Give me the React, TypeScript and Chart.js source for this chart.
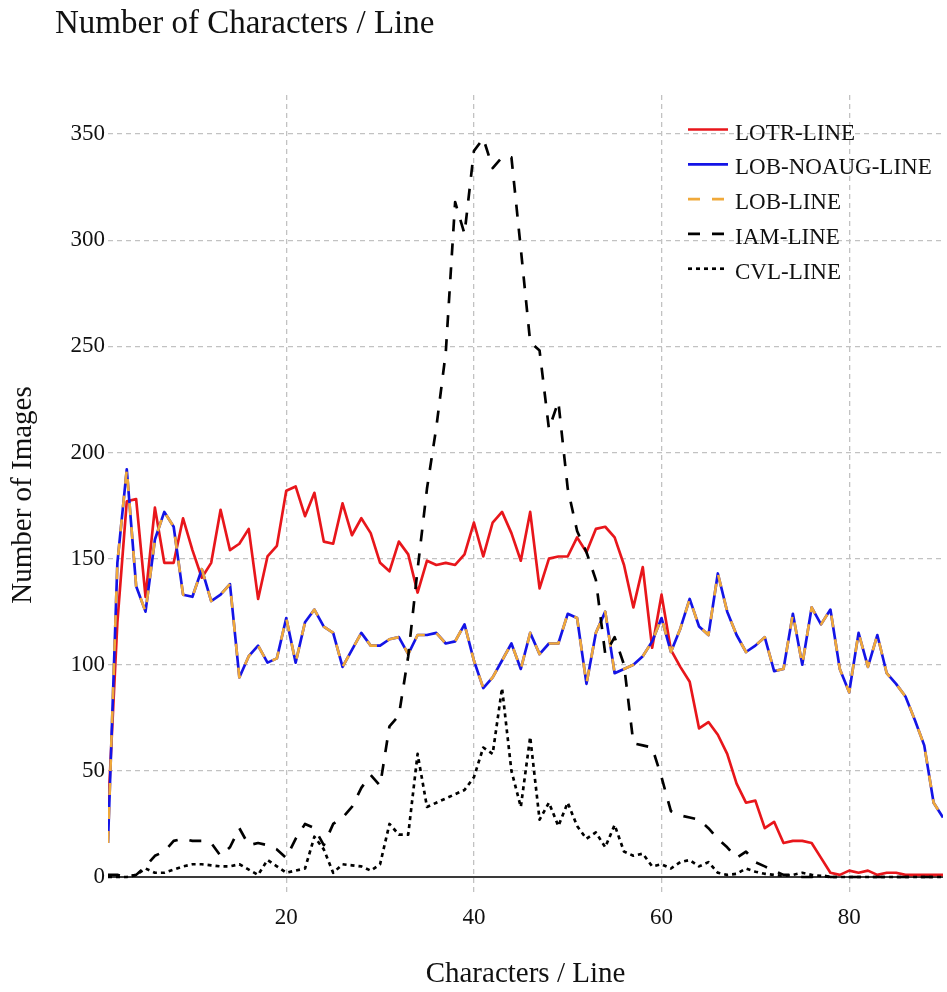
import React, { useEffect, useRef } from 'react';
import { Chart, registerables } from 'chart.js';

Chart.register(...registerables);

// ---------- data ----------
const CHARS = [
  1, 2, 3, 4, 5, 6, 7, 8, 9, 10, 11, 12, 13, 14, 15, 16, 17, 18, 19, 20,
  21, 22, 23, 24, 25, 26, 27, 28, 29, 30, 31, 32, 33, 34, 35, 36, 37, 38, 39, 40,
  41, 42, 43, 44, 45, 46, 47, 48, 49, 50, 51, 52, 53, 54, 55, 56, 57, 58, 59, 60,
  61, 62, 63, 64, 65, 66, 67, 68, 69, 70, 71, 72, 73, 74, 75, 76, 77, 78, 79, 80,
  81, 82, 83, 84, 85, 86, 87, 88, 89, 90,
];

const LOTR_LINE = [
  30, 120, 177, 178, 132, 174, 148, 148, 169, 154, 141, 148, 173, 154, 157, 164, 131, 151, 156, 182,
  184, 170, 181, 158, 157, 176, 161, 169, 162, 148, 144, 158, 152, 134, 149, 147, 148, 147, 152, 167,
  151, 167, 172, 162, 149, 172, 136, 150, 151, 151, 160, 153, 164, 165, 160, 147, 127, 146, 108, 133,
  107, 99, 92, 70, 73, 67, 58, 44, 35, 36, 23, 26, 16, 17, 17, 16, 9, 2, 1, 3,
  2, 3, 1, 2, 2, 1, 1, 1, 1, 1,
];

const LOB_NOAUG_LINE = [
  16, 148, 192, 137, 125, 159, 172, 165, 133, 132, 145, 130, 133, 138, 94, 104, 109, 101, 103, 122,
  101, 120, 126, 118, 115, 99, 107, 115, 109, 109, 112, 113, 105, 114, 114, 115, 110, 111, 119, 102,
  89, 94, 102, 110, 98, 115, 105, 110, 110, 124, 122, 91, 115, 125, 96, 98, 100, 104, 111, 122,
  106, 117, 131, 118, 114, 143, 125, 114, 106, 109, 113, 97, 98, 124, 100, 127, 119, 126, 98, 87,
  115, 99, 114, 96, 91, 85, 74, 62, 35, 28,
];

const LOB_LINE = [
  16, 148, 192, 137, 125, 159, 172, 165, 133, 132, 145, 130, 133, 138, 94, 104, 109, 101, 103, 122,
  101, 120, 126, 118, 115, 99, 107, 115, 109, 109, 112, 113, 105, 114, 114, 115, 110, 111, 119, 102,
  89, 94, 102, 110, 98, 115, 105, 110, 110, 124, 122, 91, 115, 125, 96, 98, 100, 104, 111, 122,
  106, 117, 131, 118, 114, 143, 125, 114, 106, 109, 113, 97, 98, 124, 100, 127, 119, 126, 98, 87,
  115, 99, 114, 96, 91, 85, 74, 62, 35, 28,
];

const IAM_LINE = [
  1, 1, 0, 1, 5, 10, 12, 17, 18, 17, 17, 16, 10, 14, 23, 15, 16, 15, 13, 9,
  18, 25, 23, 15, 25, 28, 33, 42, 48, 43, 71, 76, 104, 145, 183, 212, 247, 318, 303, 342,
  348, 334, 339, 339, 296, 252, 248, 211, 224, 183, 163, 153, 140, 105, 113, 100, 63, 62, 61, 47,
  31, 29, 28, 27, 23, 18, 14, 9, 12, 7, 5, 3, 1, 1, 0, 0, 1, 0, 0, 0,
  0, 0, 0, 0, 0, 0, 0, 0, 0, 0,
];

const CVL_LINE = [
  0, 0, 0, 1, 4, 2, 2, 3.5, 5, 6, 6, 5.5, 5, 5, 6, 3.5, 1, 8, 5, 2,
  3, 4, 19, 13, 2, 6, 5.5, 5, 3, 6, 25, 20, 20, 58, 33, 35, 37, 39, 41, 47,
  61, 58, 89, 50, 33, 66, 27, 35, 24, 35, 24, 18, 21, 14, 24.5, 12, 10, 11, 5, 6,
  4, 7, 8, 5, 7, 2, 1, 1.5, 4, 2.5, 1.5, 1, 0.5, 1, 2, 1, 0.5, 0, 0, 0,
  0, 0, 0, 0, 0, 0, 0, 0, 0, 0,
];

const SERIES_NAMES = ['LOTR-LINE', 'LOB-NOAUG-LINE', 'LOB-LINE', 'IAM-LINE', 'CVL-LINE'];
const X_TICKS = [20, 40, 60, 80];
const Y_TICKS = [0, 50, 100, 150, 200, 250, 300, 350];
const TITLE = 'Number of Characters / Line';
const X_TITLE = 'Characters / Line';
const Y_TITLE = 'Number of Images';

// ---------- styles ----------
const FONT = "'Liberation Serif', 'Times New Roman', serif";
const TEXT = '#111111';
const GRID = '#c2c2c2';
const LW = 2.67;

const toPoints = (vals: number[]) => CHARS.map((c, i) => ({ x: c, y: vals[i] }));

const titlePlugin = {
  id: 'customTitle',
  afterDraw(chart: any) {
    const { ctx } = chart;
    ctx.save();
    ctx.font = `33px ${FONT}`;
    ctx.fillStyle = TEXT;
    ctx.textAlign = 'left';
    ctx.textBaseline = 'alphabetic';
    ctx.fillText(TITLE, 55, 33);
    ctx.restore();
  },
};

const zeroLinePlugin = {
  id: 'zeroLine',
  beforeDatasetsDraw(chart: any) {
    const { ctx, chartArea, scales } = chart;
    const y = scales.y.getPixelForValue(0);
    ctx.save();
    ctx.strokeStyle = '#3a3a3a';
    ctx.lineWidth = 2;
    ctx.beginPath();
    ctx.moveTo(chartArea.left, y);
    ctx.lineTo(chartArea.right, y);
    ctx.stroke();
    ctx.restore();
  },
};

const legendPlugin = {
  id: 'customLegend',
  afterDatasetsDraw(chart: any) {
    const { ctx, chartArea } = chart;
    const x1 = chartArea.right - 255;
    const x2 = x1 + 40;
    const tx = x1 + 47;
    const y0 = chartArea.top + 34.5;
    const step = 34.8;
    ctx.save();
    chart.data.datasets.forEach((ds: any, i: number) => {
      const y = y0 + i * step;
      ctx.strokeStyle = ds.borderColor;
      ctx.lineWidth = ds.borderWidth;
      ctx.setLineDash(ds.borderDash || []);
      ctx.lineCap = 'butt';
      ctx.beginPath();
      ctx.moveTo(x1, y);
      ctx.lineTo(x2, y);
      ctx.stroke();
      ctx.setLineDash([]);
      ctx.font = `23px ${FONT}`;
      ctx.fillStyle = TEXT;
      ctx.textAlign = 'left';
      ctx.textBaseline = 'alphabetic';
      ctx.fillText(ds.label, tx, y + 10);
    });
    ctx.restore();
  },
};

export default function App() {
  const ref = useRef<HTMLCanvasElement>(null);

  useEffect(() => {
    if (!ref.current) return;
    const chart = new Chart(ref.current, {
      type: 'line',
      data: {
        datasets: [
          {
            label: SERIES_NAMES[0],
            data: toPoints(LOTR_LINE),
            borderColor: '#e8161b',
            borderWidth: LW,
            borderDash: [],
            order: 4,
          },
          {
            label: SERIES_NAMES[1],
            data: toPoints(LOB_NOAUG_LINE),
            borderColor: '#1414e6',
            borderWidth: LW,
            borderDash: [],
            order: 3,
          },
          {
            label: SERIES_NAMES[2],
            data: toPoints(LOB_LINE),
            borderColor: '#f0a93a',
            borderWidth: LW,
            borderDash: [12, 12],
            order: 2,
          },
          {
            label: SERIES_NAMES[3],
            data: toPoints(IAM_LINE),
            borderColor: '#000000',
            borderWidth: LW,
            borderDash: [12, 12],
            order: 1,
          },
          {
            label: SERIES_NAMES[4],
            data: toPoints(CVL_LINE),
            borderColor: '#000000',
            borderWidth: LW,
            borderDash: [4, 4],
            order: 0,
          },
        ] as any,
      },
      options: {
        responsive: false,
        animation: false,
        devicePixelRatio: 1,
        events: [],
        elements: {
          point: { radius: 0 },
          line: { tension: 0, fill: false, borderJoinStyle: 'round' },
        },
        layout: { padding: { left: 0, right: 4, top: 95, bottom: 0 } },
        plugins: {
          legend: { display: false },
          title: { display: false },
          tooltip: { enabled: false },
        },
        scales: {
          x: {
            type: 'linear',
            min: 1,
            max: 90,
            afterBuildTicks: (scale: any) => {
              scale.ticks = X_TICKS.map((v) => ({ value: v }));
            },
            afterFit: (scale: any) => {
              scale.height = 97;
            },
            grid: { color: GRID, lineWidth: 1.3, drawTicks: false },
            border: { display: false, dash: [5, 4] },
            ticks: {
              color: TEXT,
              font: { family: FONT, size: 23 },
              padding: 9,
              maxRotation: 0,
              autoSkip: false,
            },
            title: {
              display: true,
              text: X_TITLE,
              color: TEXT,
              font: { family: FONT, size: 29 },
              padding: { top: 0, bottom: 0.6 },
            },
          },
          y: {
            type: 'linear',
            min: -8.48,
            max: 368.4,
            afterBuildTicks: (scale: any) => {
              scale.ticks = Y_TICKS.map((v) => ({ value: v }));
            },
            afterFit: (scale: any) => {
              scale.width = 108;
            },
            grid: {
              color: (c: any) => (c.tick && c.tick.value === 0 ? 'rgba(0,0,0,0)' : GRID),
              lineWidth: 1.3,
              drawTicks: false,
            },
            border: { display: false, dash: [5, 4] },
            ticks: {
              color: TEXT,
              font: { family: FONT, size: 23 },
              padding: 3,
              autoSkip: false,
            },
            title: {
              display: true,
              text: Y_TITLE,
              color: TEXT,
              font: { family: FONT, size: 29 },
              padding: { top: 6, bottom: 0 },
            },
          },
        },
      } as any,
      plugins: [zeroLinePlugin, legendPlugin, titlePlugin],
    });
    return () => chart.destroy();
  }, []);

  return (
    <div style={{ position: 'absolute', left: 0, top: 0, width: 947, height: 992, background: '#ffffff' }}>
      <canvas ref={ref} width={947} height={992} style={{ display: 'block', width: 947, height: 992 }} />
    </div>
  );
}
